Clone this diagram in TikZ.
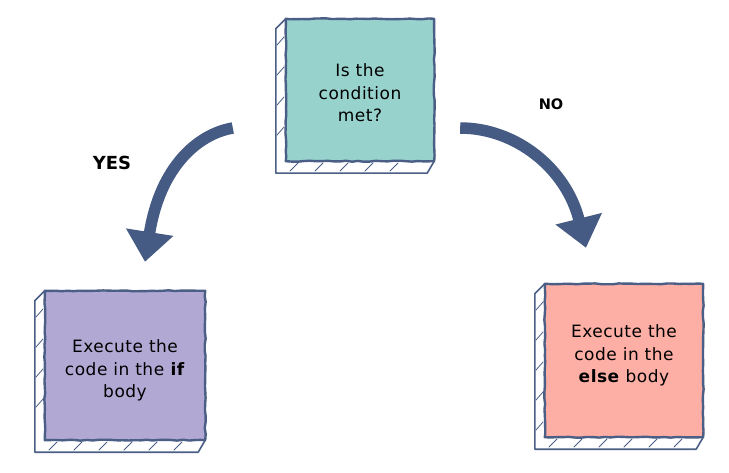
\documentclass[tikz,border=0pt]{standalone}
\usepackage{fontspec}
\setmainfont{DejaVu Sans}
\newfontfamily\boxfont[LetterSpace=3]{DejaVu Sans}
\usetikzlibrary{arrows.meta,calc,decorations.pathmorphing}
\definecolor{inkblue}{HTML}{4B5E86}
\definecolor{arrowblue}{HTML}{465B83}
\definecolor{tealfill}{HTML}{98D2CD}
\definecolor{purplefill}{HTML}{B1A9D4}
\definecolor{salmonfill}{HTML}{FDAFA5}
\tikzset{
  face/.style={inner sep=0pt, align=center, font=\boxfont\fontsize{17}{22.5}\selectfont},
  faceline/.style={draw=inkblue, line width=2.4pt, line join=round,
    decorate, decoration={random steps, segment length=6pt, amplitude=0.5pt}},
  sideline/.style={draw=inkblue, fill=white, line width=1.6pt, line join=round},
  hatch/.style={draw=inkblue, line width=0.8pt, line cap=round},
  bigarrow/.style={draw=arrowblue, line width=11.5pt,
    -{Triangle[length=30pt, width=46pt]}},
  lbl/.style={font=\bfseries\fontsize{18}{20}\selectfont}
}
% #1 node name, #2 x left, #3 y top, #4 x right, #5 y bottom
\newcommand{\sketchside}[5]{%
  \path[sideline] (#1.north west) -- ++(-10,10) -- ($(#1.south west)+(-10,12)$)
     -- ($(#1.south east)+(-7,12)$) -- (#1.south east) -- cycle;
  \pgfmathsetmacro{\ya}{#3+22}\pgfmathsetmacro{\yn}{#3+52}\pgfmathsetmacro{\yb}{#5-8}
  \pgfmathsetmacro{\xa}{#2+8}\pgfmathsetmacro{\xn}{#2+33}\pgfmathsetmacro{\xb}{#4-16}
  \foreach \yy in {\ya,\yn,...,\yb} {\draw[hatch] (#2-9,\yy+4) -- (#2-2,\yy-4);}
  \foreach \xx in {\xa,\xn,...,\xb} {\draw[hatch] (\xx-4,#5+10) -- (\xx+4,#5+2);}
}
\begin{document}
\begin{tikzpicture}[x=1pt,y=-1pt]
\pgfmathsetseed{7}
\path[use as bounding box, fill=white] (0,0) rectangle (729,473);

% faces
\node[face, minimum width=148pt, minimum height=142pt] (cond) at (360,90) {};
\node[face, minimum width=160pt, minimum height=149pt] (ifb) at (125,365.5) {};
\node[face, minimum width=158pt, minimum height=153pt] (elseb) at (624,360.5) {};

% sides
\sketchside{cond}{286}{19}{434}{161}
\sketchside{ifb}{45}{291}{205}{440}
\sketchside{elseb}{545}{284}{703}{437}

% fills and outlines
\fill[tealfill] (cond.north west) rectangle (cond.south east);
\fill[purplefill] (ifb.north west) rectangle (ifb.south east);
\fill[salmonfill] (elseb.north west) rectangle (elseb.south east);
\path[faceline] (cond.north west) rectangle (cond.south east);
\path[faceline] (ifb.north west) rectangle (ifb.south east);
\path[faceline] (elseb.north west) rectangle (elseb.south east);

% texts
\node[face] (condtxt) at ($(cond.center)+(0,3)$) {Is the\\condition\\met?};
\node[face] (iftxt) at ($(ifb.center)+(0,5)$) {Execute the\\code in the \textbf{if}\\body};
\node[face] (elsetxt) at ($(elseb.center)+(0,-5)$) {Execute the\\code in the\\\textbf{else} body};

% arrows
\coordinate (ys) at ($(cond.west)+(-53,38)$);
\coordinate (ye) at ($(ifb.north)+(20,-29)$);
\coordinate (ns) at ($(cond.east)+(26,38)$);
\coordinate (ne) at ($(elseb.north)+(-38,-36)$);
\draw[bigarrow] (ys) .. controls ($(ys)+(-35,6)$) and ($(ye)+(15,-95)$) .. (ye);
\draw[bigarrow] (ns) .. controls ($(ns)+(55,0)$) and ($(ne)+(-20,-80)$) .. (ne);

% labels
\node[lbl] (yes) at (112,163) {YES};
\node[lbl, font=\bfseries\fontsize{14.5}{18}\selectfont] (no) at (551,104) {NO};
\end{tikzpicture}
\end{document}
